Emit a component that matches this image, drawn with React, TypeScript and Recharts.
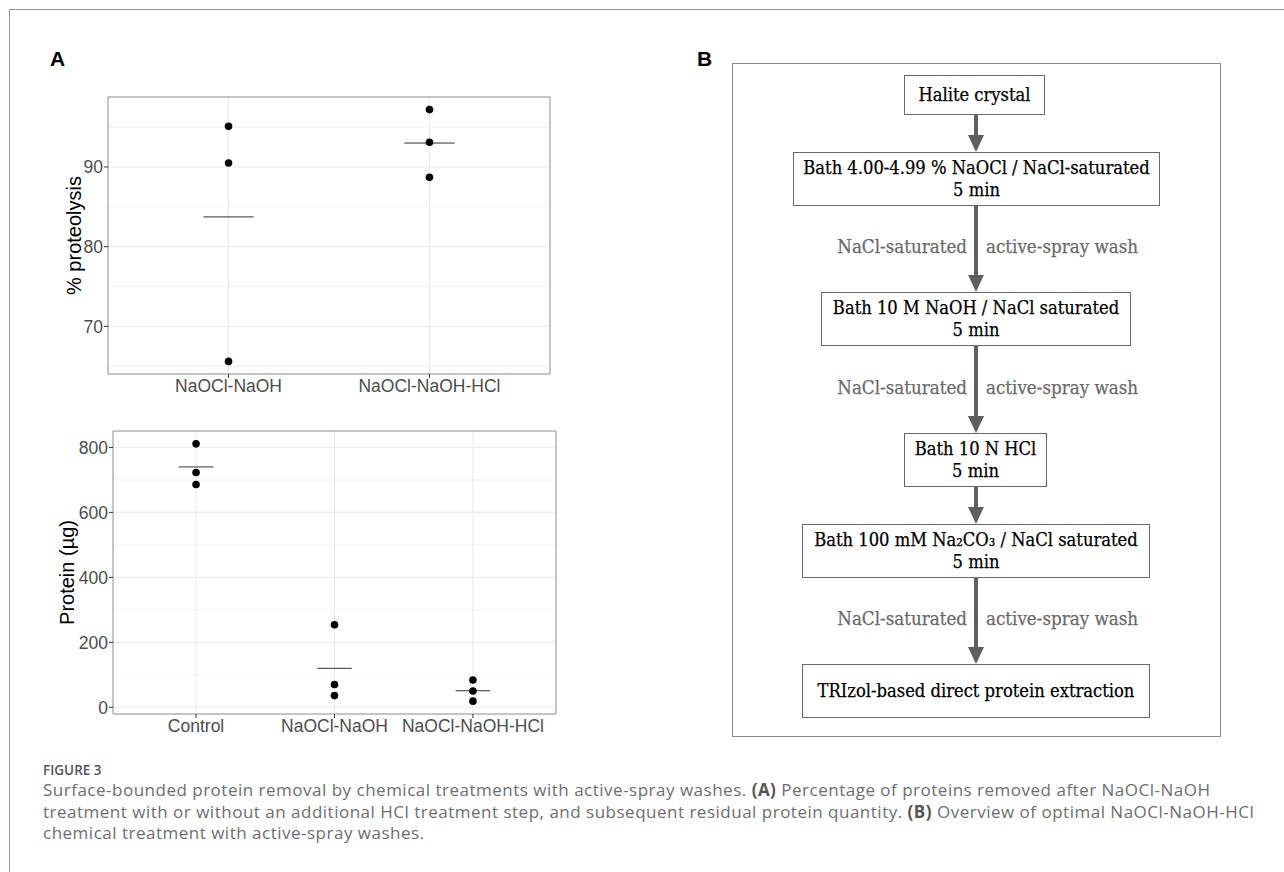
import React from 'react';
import { ScatterChart, Scatter, XAxis, YAxis, CartesianGrid, ReferenceLine, ReferenceArea } from 'recharts';

// Panel A, top: % proteolysis per treatment
const proteolysisGroups = ['NaOCl-NaOH', 'NaOCl-NaOH-HCl'];
const proteolysisNaOH = [95.1, 90.5, 65.6];
const proteolysisHCl = [97.2, 93.1, 88.7];
const proteolysisTicks = [70, 80, 90];
const proteolysisMinor = [65, 75, 85, 95];

// Panel A, bottom: residual protein (µg)
const proteinGroups = ['Control', 'NaOCl-NaOH', 'NaOCl-NaOH-HCl'];
const proteinControl = [811, 723, 686];
const proteinNaOH = [254, 70, 36];
const proteinHCl = [84, 50, 19];
const proteinTicks = [0, 200, 400, 600, 800];
const proteinMinor = [100, 300, 500, 700];

const SANS = '"Liberation Sans", Arial, sans-serif';
const SERIF = '"DejaVu Serif Condensed", "DejaVu Serif", serif';

const mean = (v: number[]) => v.reduce((a, b) => a + b, 0) / v.length;

// ggplot-style 5% expansion of the continuous axis
const expandRange = (groups: number[][]): [number, number] => {
  const all = groups.flat();
  const lo = Math.min(...all);
  const hi = Math.max(...all);
  const pad = (hi - lo) * 0.05;
  return [lo - pad, hi + pad];
};

interface DotPlotProps {
  names: string[];
  groups: number[][];
  ticks: number[];
  minor: number[];
  yLabel: string;
  width: number;
  height: number;
  top: number;
  yAxisWidth: number;
  labelOffset: number;
}

const Dot = (p: any) => <circle cx={p.cx} cy={p.cy} r={3.8} fill="#000" />;

const DotPlot: React.FC<DotPlotProps> = ({ names, groups, ticks, minor, yLabel, width, height, top, yAxisWidth, labelOffset }) => {
  const points = groups.flatMap((vals, i) => vals.map(v => ({ x: i + 1, y: v })));
  const xDomain: [number, number] = [0.4, names.length + 0.6];
  const yDomain = expandRange(groups);
  const xTicks = names.map((_, i) => i + 1);

  return (
    <ScatterChart width={width} height={height} margin={{ top, right: 10, bottom: 0, left: 0 }}>
      <CartesianGrid horizontalValues={minor} vertical={false} stroke="#ebebeb" strokeWidth={0.6} />
      <CartesianGrid horizontalValues={ticks} verticalValues={xTicks} stroke="#ebebeb" strokeWidth={1.1} />
      <XAxis
        type="number"
        dataKey="x"
        domain={xDomain}
        ticks={xTicks}
        interval={0}
        allowDataOverflow
        tickFormatter={(v: number) => names[v - 1]}
        axisLine={false}
        tickLine={{ stroke: '#333' }}
        tickSize={4}
        tickMargin={2}
        tick={{ fill: '#4d4d4d', fontSize: 17.5 }}
        height={26}
      />
      <YAxis
        type="number"
        dataKey="y"
        domain={yDomain}
        ticks={ticks}
        allowDataOverflow
        axisLine={false}
        tickLine={{ stroke: '#333' }}
        tickSize={4}
        tickMargin={1}
        tick={{ fill: '#4d4d4d', fontSize: 17.5 }}
        width={yAxisWidth}
        label={{ value: yLabel, angle: -90, position: 'insideLeft', offset: labelOffset, fill: '#000', fontSize: 20, style: { textAnchor: 'middle' } }}
      />
      <ReferenceArea x1={xDomain[0]} x2={xDomain[1]} y1={yDomain[0]} y2={yDomain[1]} fill="none" stroke="#8c8c8c" strokeWidth={1} />
      {groups.map((vals, i) => (
        <ReferenceLine
          key={names[i]}
          segment={[{ x: i + 1 - 0.125, y: mean(vals) }, { x: i + 1 + 0.125, y: mean(vals) }]}
          stroke="#333"
          strokeWidth={1}
        />
      ))}
      <Scatter data={points} isAnimationActive={false} shape={Dot} />
    </ScatterChart>
  );
};

const flowText: React.CSSProperties = {
  fontFamily: SERIF,
  fontStretch: 'condensed',
  fontSize: 18.2,
  lineHeight: '22px',
  whiteSpace: 'nowrap',
  WebkitTextStroke: '0.25px currentColor',
};

const Step = ({ left, top, width, height, lines }: { left: number; top: number; width: number; height: number; lines: string[] }) => (
  <div
    style={{
      ...flowText,
      position: 'absolute',
      left,
      top,
      width,
      height,
      border: '1.5px solid #6a6a6a',
      boxSizing: 'border-box',
      display: 'flex',
      flexDirection: 'column',
      justifyContent: 'center',
      alignItems: 'center',
      color: '#000',
    }}
  >
    {lines.map(l => <div key={l}>{l}</div>)}
  </div>
);

const Wash = ({ y }: { y: number }) => (
  <>
    <div style={{ ...flowText, fontSize: 18.6, position: 'absolute', right: 1284 - 967, top: y - 11, color: '#6a6a6a' }}>NaCl-saturated</div>
    <div style={{ ...flowText, fontSize: 18.6, position: 'absolute', left: 986, top: y - 11, color: '#6a6a6a' }}>active-spray wash</div>
  </>
);

const ARROW_X = 976;
const arrows: [number, number][] = [[115, 152], [206, 292], [346, 433], [487, 524], [577, 664]];

const Flow = () => (
  <>
    <div style={{ position: 'absolute', left: 732, top: 63, width: 489, height: 674, border: '1.5px solid #8a8a8a', boxSizing: 'border-box' }} />
    <svg style={{ position: 'absolute', left: 0, top: 0 }} width={1284} height={872}>
      {arrows.map(([a, b]) => (
        <g key={a} fill="#5f5f5f" stroke="#5f5f5f">
          <line x1={ARROW_X} y1={a} x2={ARROW_X} y2={b - 14} strokeWidth={4} />
          <polygon points={`${ARROW_X - 8},${b - 17} ${ARROW_X + 8},${b - 17} ${ARROW_X},${b}`} strokeWidth={0} />
        </g>
      ))}
    </svg>
    <Step left={904} top={75} width={141} height={40} lines={['Halite crystal']} />
    <Step left={793} top={152} width={367} height={54} lines={['Bath 4.00-4.99 % NaOCl / NaCl-saturated', '5 min']} />
    <Step left={821} top={292} width={310} height={54} lines={['Bath 10 M NaOH / NaCl saturated', '5 min']} />
    <Step left={904} top={433} width={143} height={54} lines={['Bath 10 N HCl', '5 min']} />
    <Step left={802} top={524} width={348} height={54} lines={['Bath 100 mM Na₂CO₃ / NaCl saturated', '5 min']} />
    <Step left={802} top={664} width={348} height={54} lines={['TRIzol-based direct protein extraction']} />
    <Wash y={247} />
    <Wash y={388} />
    <Wash y={619} />
  </>
);

const captionLine: React.CSSProperties = { whiteSpace: 'nowrap', height: 21.5, lineHeight: '21.5px' };

export default function App() {
  return (
    <div style={{ position: 'absolute', left: 0, top: 0, width: 1284, height: 872, background: '#fff', fontFamily: SANS, overflow: 'hidden' }}>
      <div style={{ position: 'absolute', left: 9, top: 9, right: 0, bottom: 0, borderTop: '1.5px solid #9a9a9a', borderLeft: '1.5px solid #9a9a9a' }} />
      <div style={{ position: 'absolute', left: 50, top: 48, fontWeight: 'bold', fontSize: 21, lineHeight: '21px', color: '#000' }}>A</div>
      <div style={{ position: 'absolute', left: 697, top: 48, fontWeight: 'bold', fontSize: 21, lineHeight: '21px', color: '#000' }}>B</div>

      <div style={{ position: 'absolute', left: 40, top: 80 }}>
        <DotPlot
          names={proteolysisGroups}
          groups={[proteolysisNaOH, proteolysisHCl]}
          ticks={proteolysisTicks}
          minor={proteolysisMinor}
          yLabel="% proteolysis"
          width={520}
          height={320}
          top={17}
          yAxisWidth={68}
          labelOffset={34}
        />
      </div>
      <div style={{ position: 'absolute', left: 40, top: 420 }}>
        <DotPlot
          names={proteinGroups}
          groups={[proteinControl, proteinNaOH, proteinHCl]}
          ticks={proteinTicks}
          minor={proteinMinor}
          yLabel="Protein (µg)"
          width={526}
          height={320}
          top={11}
          yAxisWidth={73}
          labelOffset={27}
        />
      </div>

      <Flow />

      <div style={{ position: 'absolute', left: 43, top: 763, fontFamily: '"Open Sans", sans-serif', fontWeight: 600, fontSize: 13.5, lineHeight: '14px', color: '#555' }}>FIGURE 3</div>
      <div style={{ position: 'absolute', left: 43, top: 779, fontFamily: '"Open Sans", sans-serif', fontSize: 17, letterSpacing: 0.5, color: '#6e6e6e' }}>
        <div style={captionLine}>Surface-bounded protein removal by chemical treatments with active-spray washes. <b style={{ color: '#555' }}>(A)</b> Percentage of proteins removed after NaOCl-NaOH</div>
        <div style={captionLine}>treatment with or without an additional HCl treatment step, and subsequent residual protein quantity. <b style={{ color: '#555' }}>(B)</b> Overview of optimal NaOCl-NaOH-HCl</div>
        <div style={captionLine}>chemical treatment with active-spray washes.</div>
      </div>
    </div>
  );
}
